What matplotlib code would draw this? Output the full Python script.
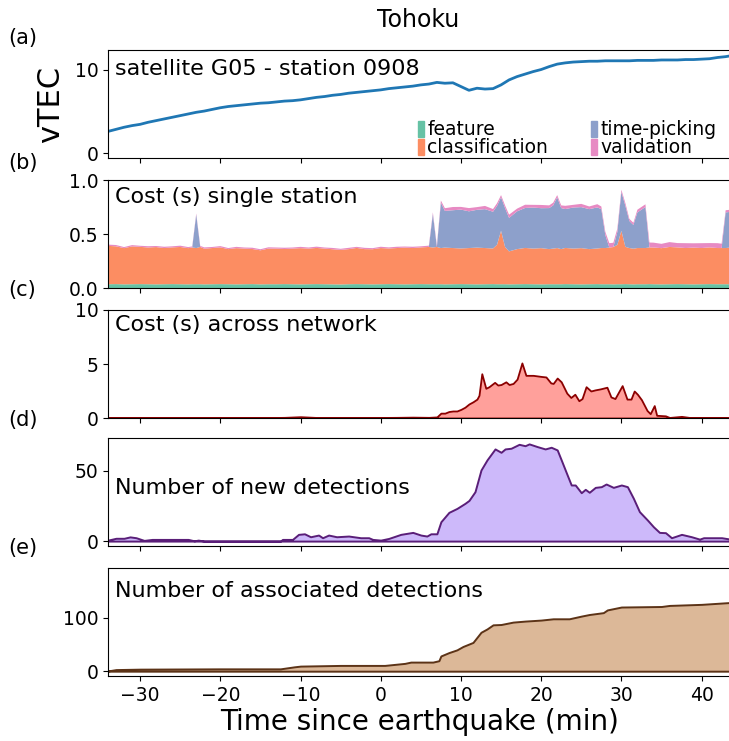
import matplotlib
matplotlib.use("Agg")
import matplotlib.pyplot as plt
import matplotlib.patches as mpatches
import numpy as np

# ---------------- data ----------------
# (a) vTEC
t_a = [-34, -33, -32, -31, -30, -29, -28, -27, -26, -25, -24, -23, -22, -21, -20, -19,
       -18, -17, -16, -15, -14, -13, -12, -11, -10, -9, -8, -7, -6, -5, -4, -3, -2, -1,
       0, 1, 2, 3, 4, 5, 6, 7, 8, 9, 10, 11, 12, 13, 14, 15, 16, 17, 18, 19, 20, 21, 22,
       23, 24, 25, 26, 27, 28, 29, 30, 31, 32, 33, 34, 35, 36, 37, 38, 39, 40, 41, 42, 43, 43.6]
vtec = [2.6, 2.85, 3.1, 3.3, 3.45, 3.7, 3.9, 4.1, 4.3, 4.5, 4.7, 4.9, 5.05, 5.25, 5.45, 5.6,
        5.7, 5.8, 5.9, 6.0, 6.05, 6.15, 6.25, 6.3, 6.4, 6.55, 6.7, 6.8, 6.95, 7.05, 7.2, 7.3, 7.4, 7.5,
        7.6, 7.75, 7.85, 7.95, 8.05, 8.2, 8.3, 8.5, 8.4, 8.45, 8.0, 7.55, 7.8, 7.7, 7.75, 8.2, 8.8, 9.2,
        9.5, 9.8, 10.05, 10.4, 10.7, 10.85, 10.95, 11.0, 11.05, 11.05, 11.1, 11.1, 11.1, 11.1, 11.15,
        11.15, 11.15, 11.2, 11.2, 11.2, 11.25, 11.25, 11.3, 11.35, 11.5, 11.6, 11.7]

# (b) cost single station (stacked)
t_b = [-34, -33, -32, -31, -30, -29, -28, -27, -26, -25, -24,
       -23.5, -23, -22.5,
       -22, -21, -20, -19, -18, -17, -16, -15, -14, -13, -12, -11, -10, -9, -8, -7, -6, -5,
       -4, -3, -2, -1, 0, 1, 2, 3, 4, 5, 6,
       6.5, 7, 7.5,
       8, 9, 10, 11, 12, 13, 14,
       14.5, 15, 15.5,
       16, 17, 18, 19, 20, 21,
       21.5, 22, 22.5,
       23, 24, 25, 26, 27,
       27.5, 28, 28.5, 29, 29.5, 30, 30.5, 31, 31.5, 32,
       33, 33.5,
       34, 35, 36, 37, 38, 39, 40, 41, 42,
       42.5, 43, 43.6]
cost_feature = [0.035, 0.036, 0.034, 0.035, 0.036, 0.035, 0.034, 0.035, 0.036, 0.035, 0.034,
                0.035, 0.035, 0.035,
                0.034, 0.035, 0.036, 0.035, 0.034, 0.035, 0.036, 0.034, 0.035, 0.035, 0.036, 0.035,
                0.034, 0.035, 0.036, 0.035, 0.034, 0.033,
                0.035, 0.036, 0.035, 0.034, 0.035, 0.036, 0.035, 0.034, 0.035, 0.036, 0.035,
                0.035, 0.035, 0.035,
                0.034, 0.035, 0.036, 0.035, 0.034, 0.035, 0.036,
                0.035, 0.035, 0.035,
                0.034, 0.035, 0.036, 0.035, 0.034, 0.035,
                0.035, 0.035, 0.035,
                0.036, 0.035, 0.034, 0.035, 0.036,
                0.035, 0.035, 0.035, 0.034, 0.035, 0.035, 0.036, 0.035, 0.034, 0.035,
                0.035, 0.036,
                0.035, 0.034, 0.035, 0.036, 0.035, 0.034, 0.035, 0.036, 0.035,
                0.035, 0.035, 0.035]
cost_classification = [0.355, 0.35, 0.335, 0.35, 0.345, 0.34, 0.345, 0.335, 0.34, 0.345, 0.335,
                       0.34, 0.335, 0.345,
                       0.33, 0.335, 0.34, 0.325, 0.335, 0.33, 0.325, 0.315, 0.33, 0.33, 0.325, 0.33,
                       0.335, 0.33, 0.335, 0.33, 0.325, 0.32,
                       0.325, 0.335, 0.325, 0.325, 0.335, 0.33, 0.335, 0.34, 0.335, 0.34, 0.345,
                       0.34, 0.345, 0.335,
                       0.34, 0.335, 0.33, 0.335, 0.34, 0.335, 0.33,
                       0.365, 0.495, 0.345,
                       0.305, 0.325, 0.335, 0.33, 0.335, 0.325,
                       0.33, 0.335, 0.325,
                       0.335, 0.33, 0.335, 0.325, 0.33,
                       0.335, 0.335, 0.34, 0.345, 0.365, 0.495, 0.345, 0.335, 0.33, 0.335,
                       0.335, 0.34,
                       0.34, 0.335, 0.345, 0.34, 0.335, 0.34, 0.335, 0.34, 0.335,
                       0.335, 0.335, 0.34]
cost_timepicking = [0, 0, 0, 0, 0, 0, 0, 0, 0, 0, 0,
                    0, 0.31, 0,
                    0, 0, 0, 0, 0, 0, 0, 0, 0, 0, 0, 0, 0, 0, 0, 0, 0, 0,
                    0, 0, 0, 0, 0, 0, 0, 0, 0, 0, 0,
                    0.31, 0.0, 0.42,
                    0.34, 0.35, 0.36, 0.34, 0.35, 0.36, 0.34,
                    0.36, 0.31, 0.36,
                    0.31, 0.35, 0.37, 0.38, 0.37, 0.38,
                    0.40, 0.47, 0.38,
                    0.36, 0.38, 0.38, 0.37, 0.38,
                    0.36, 0.12, 0.0, 0.0, 0.12, 0.36, 0.38, 0.25, 0.22, 0.33,
                    0.38, 0.0,
                    0, 0, 0, 0, 0, 0, 0, 0, 0,
                    0, 0.33, 0.33]
cost_validation = [0.012, 0.012, 0.01, 0.012, 0.01, 0.012, 0.01, 0.012, 0.01, 0.012, 0.01,
                   0.01, 0.01, 0.01,
                   0.012, 0.01, 0.012, 0.01, 0.012, 0.01, 0.012, 0.01, 0.012, 0.01, 0.012, 0.01,
                   0.012, 0.01, 0.012, 0.01, 0.012, 0.01,
                   0.012, 0.01, 0.012, 0.01, 0.012, 0.01, 0.012, 0.01, 0.012, 0.01, 0.012,
                   0.015, 0.015, 0.02,
                   0.025, 0.03, 0.025, 0.03, 0.025, 0.03, 0.025,
                   0.025, 0.02, 0.025,
                   0.03, 0.025, 0.03, 0.025, 0.03, 0.025,
                   0.025, 0.02, 0.025,
                   0.03, 0.025, 0.03, 0.025, 0.03,
                   0.025, 0.03, 0.04, 0.04, 0.03, 0.02, 0.025, 0.02, 0.02, 0.025,
                   0.025, 0.045,
                   0.045, 0.04, 0.045, 0.04, 0.045, 0.04, 0.045, 0.04, 0.045,
                   0.04, 0.02, 0.02]

# (c) cost across network
t_c = [-34, -30, -25, -20, -15, -12, -10, -8, -5, -2, 0, 2, 4, 6, 7, 7.5, 8, 8.5, 9, 9.5,
       10, 10.5, 11, 11.5, 12, 12.25, 12.6, 13.1, 13.5, 14.2, 14.6, 15, 15.6, 16, 16.5, 17,
       17.6, 18.1, 19, 20, 20.6, 21.2, 21.5, 22, 22.5, 23.2, 23.7, 24.2, 24.7, 25.1, 25.6,
       26.2, 26.7, 27.4, 28.2, 28.7, 29.2, 30.1, 30.7, 31.2, 31.6, 32, 32.5, 33.2, 33.6,
       34.1, 34.4, 35.5, 36, 37.5, 38.5, 40, 43.6]
cost_network = [0.05, 0.05, 0.03, 0.02, 0.03, 0.06, 0.12, 0.05, 0.03, 0.04, 0.05, 0.06, 0.08,
                0.06, 0.1, 0.45, 0.45, 0.6, 0.65, 0.65, 0.8, 1.0, 1.3, 1.5, 1.75, 2.1, 4.1, 2.75,
                2.9, 3.3, 3.05, 3.1, 3.35, 3.1, 3.2, 3.6, 5.1, 3.95, 3.95, 3.85, 3.8, 3.25, 3.2,
                3.7, 3.35, 2.3, 1.9, 2.2, 1.6, 1.8, 2.9, 2.5, 2.6, 2.7, 2.85, 1.95, 1.8, 3.0,
                1.75, 1.75, 2.5, 2.2, 1.7, 0.7, 0.4, 1.15, 0.25, 0.2, 0.05, 0.15, 0.05, 0.03, 0.04]

# (d) new detections
t_d = [-34, -33, -32, -31.25, -30.5, -29.5, -28.5, -24, -23.25, -22.75, -22, -12.5, -12.25,
       -11, -10.25, -9.5, -8.75, -7.75, -7.25, -6.5, -5.5, -4, -2.5, -1.5, -1, 0, 1, 2.5, 4,
       5, 5.75, 6.25, 7, 7.5, 8.5, 9.5, 10.5, 11, 11.75, 12.5, 13.25, 14.25, 15, 15.5, 16.25,
       17.25, 18, 18.5, 19.5, 20.5, 21.25, 22, 22.5, 23.25, 23.75, 24.25, 25, 25.5, 26,
       26.75, 27.5, 28.1, 29, 30, 30.75, 31.5, 32.25, 33.25, 34, 34.75, 35.5, 36.25, 37.5,
       38.75, 39.75, 40.25, 42.5, 43.6]
new_det = [0.7, 2, 2, 3, 2.4, 0.5, 1.2, 1.2, 0.2, 0.7, 0, 0, 1.2, 1.2, 4.8, 5.2, 3.1, 4.3,
           2.4, 4.3, 3.1, 3.6, 2.4, 2.4, 1.2, 0.7, 1.9, 4.8, 6.2, 4.3, 3.6, 5.2, 5.2, 13.8,
           20.5, 23.3, 26.9, 29, 35.2, 50.7, 57.9, 65.7, 63.3, 65.7, 66.2, 69, 68, 69.3, 67.4,
           65.7, 66.9, 65, 57.9, 47.1, 40, 40, 34.5, 36.9, 34.8, 38.3, 38.8, 40.7, 38.3, 40,
           38.8, 30.5, 21, 15, 10.2, 6.2, 6, 2.4, 4.8, 3.1, 1.4, 2.4, 2.4, 1.4]

# (e) associated detections
t_e = [-34, -33, -30, -20, -12.5, -10.75, -10, -5, 0.5, 3, 3.75, 6.5, 7.25, 7.5, 8.5, 9.5,
       10.25, 11.5, 12.5, 13.25, 14, 15, 16.5, 18, 20, 21.5, 23.5, 25, 26, 27.75, 28.25, 30,
       35, 36, 40, 43.6]
assoc_det = [0.5, 3, 3.8, 4.4, 4.4, 8.2, 9.5, 10.8, 10.8, 14.6, 17, 17, 19.6, 28.5, 34.8,
             39.9, 46.2, 53.8, 72.8, 79, 86.7, 87.3, 91.8, 93.7, 95.6, 98, 98, 103, 106,
             109.5, 114.6, 120, 121, 123, 125, 128.5]

legend_labels = ["feature", "classification", "time-picking", "validation"]
stack_colors = ["#66c2a5", "#fc8d62", "#8da0cb", "#e78ac3"]

# ---------------- figure ----------------
W, H = 729, 741
fig = plt.figure(figsize=(W / 100, H / 100), dpi=100)

left = 108 / W
width = 1.0 - left + 0.002
tops = [50, 180, 310, 438, 568]
hpx = 108
axes = []
for i, tp in enumerate(tops):
    b = 1 - (tp + hpx) / H
    ax = fig.add_axes([left, b, width, hpx / H], sharex=axes[0] if axes else None)
    axes.append(ax)
ax_a, ax_b, ax_c, ax_d, ax_e = axes

xlim = (-34, 43.6)
for ax in axes:
    ax.set_xlim(*xlim)
    ax.tick_params(labelsize=13.5)
    ax.set_xticks([-30, -20, -10, 0, 10, 20, 30, 40])
for ax in axes[:-1]:
    ax.tick_params(labelbottom=False)

txt_kw = dict(fontsize=16, ha="left", va="center")

# (a)
ax_a.plot(t_a, vtec, color="#1f77b4", lw=2)
ax_a.set_ylim(-0.6, 12.4)
ax_a.set_yticks([0, 10])
ax_a.set_ylabel("vTEC", fontsize=22, labelpad=7)
ax_a.text(0.012, 0.825, "satellite G05 - station 0908", transform=ax_a.transAxes, **txt_kw)

# (b)
ax_b.stackplot(t_b, cost_feature, cost_classification, cost_timepicking, cost_validation,
               colors=stack_colors, lw=0)
ax_b.set_ylim(0, 1.0)
ax_b.set_yticks([0, 0.5, 1.0])
ax_b.text(0.012, 0.845, "Cost (s) single station", transform=ax_b.transAxes, **txt_kw)

handles = [mpatches.Patch(color=c, label=l) for c, l in zip(stack_colors, legend_labels)]
ax_a.legend(handles=handles, ncol=2, loc="lower left", bbox_to_anchor=(0.498, 0.005),
            frameon=False, fontsize=13.5, handlelength=0.3, handleheight=1.0,
            handletextpad=0.2, columnspacing=2.3, labelspacing=-0.05, borderpad=0.0,
            borderaxespad=0.0)

# (c)
ax_c.fill_between(t_c, 0, cost_network, facecolor="#ffa09b", edgecolor="#8b0000", lw=1.3)
ax_c.set_ylim(0, 10)
ax_c.set_yticks([0, 5, 10])
ax_c.text(0.012, 0.865, "Cost (s) across network", transform=ax_c.transAxes, **txt_kw)

# (d)
ax_d.fill_between(t_d, 0, new_det, facecolor="#cdb9fa", edgecolor="#5a1e78", lw=1.4)
ax_d.set_ylim(-3.5, 73.5)
ax_d.set_yticks([0, 50])
ax_d.text(0.012, 0.54, "Number of new detections", transform=ax_d.transAxes, **txt_kw)

# (e)
ax_e.fill_between(t_e, 0, assoc_det, facecolor="#dcb898", edgecolor="#5c3317", lw=1.4)
ax_e.set_ylim(-9, 193)
ax_e.set_yticks([0, 100])
ax_e.text(0.012, 0.79, "Number of associated detections", transform=ax_e.transAxes, **txt_kw)
ax_e.set_xlabel("Time since earthquake (min)", fontsize=20, labelpad=2)

fig.text(418 / W, 1 - 20 / H, "Tohoku", fontsize=17, ha="center", va="center")
for lab, yy in zip(["(a)", "(b)", "(c)", "(d)", "(e)"], [38, 163, 290, 420, 548]):
    fig.text(8 / W, 1 - yy / H, lab, fontsize=15, ha="left", va="center")

fig.savefig("out.png", dpi=100)
